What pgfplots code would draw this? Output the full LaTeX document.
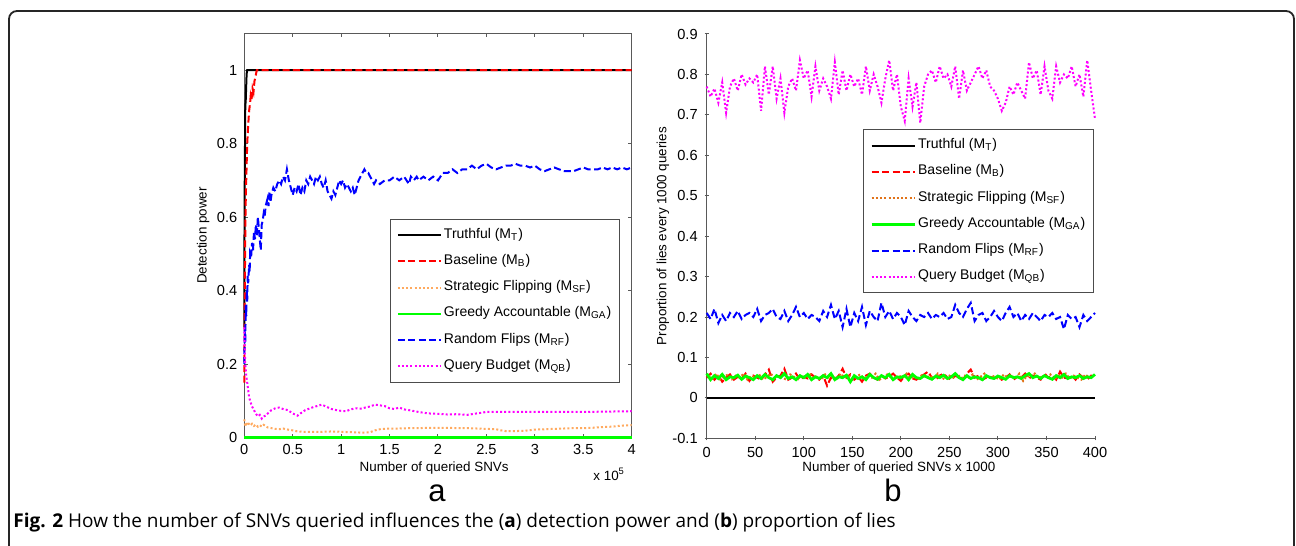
\documentclass[border=0pt]{standalone}
\usepackage{pgfplots}
\pgfplotsset{compat=1.18}
\usepackage{fontspec}
\setmainfont{Liberation Sans}
\newfontfamily\capfont{Open Sans}

\definecolor{mred}{RGB}{255,0,0}
\definecolor{mblue}{RGB}{0,0,255}
\definecolor{mgreen}{RGB}{0,255,0}
\definecolor{mmag}{RGB}{255,0,255}
\definecolor{morangeL}{RGB}{255,170,95}
\definecolor{morangeR}{RGB}{225,115,25}

\pgfplotsset{
  mstyle/.style={
    scale only axis, clip=false,
    tick align=inside, major tick length=2pt,
    axis line style={black!65, line width=0.5pt},
    every tick/.style={black!65, line width=0.5pt},
    tick label style={font=\fontsize{7.3}{8}\selectfont},
    label style={font=\fontsize{6.7}{8}\selectfont},
    legend cell align=left,
    legend image code/.code={\draw[##1] (0pt,0pt) -- (21.5pt,0pt);},
    legend style={font=\fontsize{7}{8}\selectfont, draw=black!70, line width=0.5pt,
      inner sep=3.2pt, row sep=3.7pt,
      nodes={inner sep=1pt, text height=5.2pt, text depth=2.2pt}},
  },
  lT/.style={black, line width=1pt},
  lB/.style={mred, line width=1pt, dash pattern=on 3.5pt off 1.7pt},
  lGA/.style={mgreen, line width=1.2pt},
  lRF/.style={mblue, line width=1pt, dash pattern=on 3.5pt off 1.7pt},
  lQB/.style={mmag, line width=1pt, dash pattern=on 1pt off 1.1pt},
}

\begin{document}
\begin{tikzpicture}
\path[use as bounding box] (0,0) rectangle (648pt,273pt);
\draw[line width=0.9pt, black!85, rounded corners=4pt] (4.5pt,-10pt) rectangle (647pt,267.5pt);

% (a) detection power
\begin{axis}[mstyle,
  at={(122.15pt,54.15pt)}, anchor=south west,
  width=193.7pt, height=202.2pt,
  xmin=0, xmax=4, ymin=0, ymax=1.1,
  xtick={0,0.5,1,1.5,2,2.5,3,3.5,4},
  xticklabels={0,0.5,1,1.5,2,2.5,3,3.5,4},
  ytick={0,0.2,0.4,0.6,0.8,1},
  yticklabels={0,0.2,0.4,0.6,0.8,1},
  xlabel={Number of queried SNVs},
  ylabel={Detection power},
  xlabel style={at={(axis description cs:0.49,-0.075)}, anchor=center},
  ylabel style={at={(axis description cs:-0.106,0.5)}, anchor=center},
  legend style={at={(0.970,0.541)}, anchor=north east},
]
\addplot[lT] coordinates {(0,0.30) (0.002,0.55) (0.005,0.72) (0.008,0.82) (0.01,0.90) (0.015,0.92) (0.02,0.96) (0.024,0.99) (0.03,1) (4,1)};
\addlegendentry{Truthful (M\textsubscript{T})}
\addplot[lB] coordinates {(0,0.15) (0.004,0.35) (0.008,0.5) (0.012,0.6) (0.016,0.66) (0.022,0.72) (0.03,0.8) (0.04,0.85) (0.05,0.89) (0.06,0.91) (0.066,0.93) (0.075,0.92) (0.085,0.95) (0.095,0.94) (0.105,0.97) (0.115,0.98) (0.125,0.995) (0.13,1) (4,1)};
\addlegendentry{Baseline (M\textsubscript{B})}
\addplot[morangeL, line width=1pt, dash pattern=on 1pt off 1.1pt] coordinates {
(0,0.05) (0.01,0.03) (0.02,0.042) (0.03,0.035) (0.04,0.04) (0.06,0.033) (0.08,0.038) (0.10,0.032) (0.12,0.036) (0.14,0.03) (0.16,0.034) (0.18,0.03) (0.20,0.035) (0.24,0.028) (0.28,0.026) (0.32,0.024) (0.36,0.023) (0.40,0.025) (0.45,0.022) (0.50,0.02) (0.55,0.017) (0.60,0.016) (0.70,0.016) (0.80,0.016) (0.90,0.017) (1.00,0.016) (1.10,0.015) (1.20,0.014) (1.25,0.014) (1.30,0.015) (1.35,0.02) (1.40,0.023) (1.50,0.025) (1.60,0.025) (1.70,0.026) (1.80,0.026) (1.90,0.027) (2.00,0.027) (2.10,0.027) (2.20,0.026) (2.30,0.026) (2.40,0.025) (2.50,0.024) (2.60,0.023) (2.65,0.02) (2.70,0.018) (2.80,0.018) (2.90,0.019) (3.00,0.022) (3.10,0.023) (3.20,0.024) (3.30,0.025) (3.40,0.026) (3.50,0.026) (3.60,0.027) (3.70,0.029) (3.80,0.03) (3.90,0.033) (4.00,0.034)};
\addlegendentry{Strategic Flipping (M\textsubscript{SF})}
\addplot[lGA] coordinates {(0,0) (4,0)};
\addlegendentry{Greedy Accountable (M\textsubscript{GA})}
\addplot[lRF] coordinates {
(0,0.20) (0.005,0.30) (0.01,0.26) (0.015,0.36) (0.02,0.33) (0.025,0.40) (0.03,0.37) (0.035,0.44) (0.04,0.42) (0.05,0.47) (0.055,0.45) (0.06,0.50) (0.07,0.49) (0.08,0.53) (0.09,0.51) (0.10,0.56) (0.11,0.54) (0.12,0.58) (0.13,0.55) (0.14,0.60) (0.15,0.57) (0.17,0.51) (0.18,0.58) (0.19,0.59) (0.20,0.61) (0.21,0.60) (0.22,0.63) (0.24,0.65) (0.25,0.63) (0.26,0.67) (0.27,0.64) (0.28,0.66) (0.30,0.68) (0.32,0.67) (0.34,0.69) (0.36,0.70) (0.38,0.69) (0.40,0.71) (0.42,0.70) (0.44,0.73) (0.46,0.70) (0.48,0.68) (0.50,0.66) (0.52,0.68) (0.54,0.67) (0.56,0.69) (0.58,0.66) (0.60,0.68) (0.62,0.67) (0.64,0.70) (0.66,0.69) (0.68,0.71) (0.70,0.70) (0.72,0.69) (0.74,0.71) (0.76,0.70) (0.78,0.71) (0.80,0.69) (0.82,0.68) (0.84,0.70) (0.86,0.67) (0.88,0.66) (0.90,0.65) (0.92,0.67) (0.94,0.66) (0.96,0.68) (0.98,0.70) (1.00,0.69) (1.02,0.70) (1.04,0.68) (1.06,0.69) (1.08,0.68) (1.10,0.67) (1.12,0.68) (1.14,0.66) (1.16,0.68) (1.18,0.70) (1.20,0.71) (1.22,0.72) (1.24,0.73) (1.26,0.72) (1.28,0.72) (1.30,0.71) (1.32,0.70) (1.34,0.69) (1.36,0.70) (1.40,0.69) (1.45,0.70) (1.50,0.70) (1.55,0.71) (1.60,0.70) (1.65,0.71) (1.70,0.69) (1.72,0.71) (1.75,0.70) (1.78,0.71) (1.80,0.70) (1.85,0.71) (1.90,0.70) (1.95,0.71) (2.00,0.70) (2.05,0.72) (2.10,0.72) (2.15,0.73) (2.20,0.72) (2.25,0.73) (2.30,0.73) (2.35,0.74) (2.40,0.73) (2.45,0.74) (2.50,0.745) (2.55,0.735) (2.60,0.73) (2.65,0.735) (2.70,0.74) (2.75,0.74) (2.80,0.745) (2.85,0.74) (2.90,0.74) (2.95,0.735) (3.00,0.74) (3.05,0.73) (3.10,0.725) (3.15,0.73) (3.20,0.735) (3.25,0.73) (3.30,0.725) (3.35,0.725) (3.40,0.725) (3.45,0.73) (3.50,0.735) (3.55,0.73) (3.60,0.73) (3.65,0.73) (3.70,0.735) (3.75,0.73) (3.80,0.735) (3.85,0.73) (3.90,0.735) (3.95,0.73) (4.00,0.735)};
\addlegendentry{Random Flips (M\textsubscript{RF})}
\addplot[lQB] coordinates {
(0,0.30) (0.005,0.24) (0.01,0.20) (0.02,0.17) (0.03,0.15) (0.04,0.13) (0.05,0.11) (0.06,0.10) (0.08,0.085) (0.10,0.075) (0.12,0.065) (0.14,0.058) (0.16,0.062) (0.18,0.052) (0.20,0.058) (0.22,0.06) (0.25,0.068) (0.28,0.075) (0.32,0.08) (0.36,0.082) (0.40,0.078) (0.45,0.075) (0.50,0.066) (0.55,0.06) (0.58,0.066) (0.63,0.075) (0.70,0.082) (0.75,0.086) (0.80,0.09) (0.85,0.084) (0.90,0.078) (0.95,0.075) (1.00,0.073) (1.05,0.072) (1.10,0.077) (1.15,0.08) (1.20,0.079) (1.25,0.082) (1.30,0.085) (1.35,0.09) (1.40,0.088) (1.45,0.086) (1.50,0.08) (1.55,0.078) (1.60,0.082) (1.65,0.077) (1.70,0.075) (1.80,0.07) (1.90,0.066) (2.00,0.065) (2.10,0.063) (2.20,0.064) (2.30,0.062) (2.40,0.066) (2.50,0.07) (2.60,0.07) (3.00,0.07) (3.50,0.07) (4.00,0.072)};
\addlegendentry{Query Budget (M\textsubscript{QB})}
\end{axis}

% (b) proportion of lies
\begin{axis}[mstyle,
  at={(353.35pt,53.85pt)}, anchor=south west,
  width=194.15pt, height=202.15pt,
  axis lines=left, axis line style={-},
  xmin=0, xmax=400, ymin=-0.1, ymax=0.9,
  xtick={0,50,...,400},
  xticklabels={0,50,100,150,200,250,300,350,400},
  ytick={-0.1,0,0.1,0.2,0.3,0.4,0.5,0.6,0.7,0.8,0.9},
  yticklabels={-0.1,0,0.1,0.2,0.3,0.4,0.5,0.6,0.7,0.8,0.9},
  xlabel={Number of queried SNVs x 1000},
  ylabel={Proportion of lies every 1000 queries},
  xlabel style={at={(axis description cs:0.495,-0.0735)}, anchor=center},
  ylabel style={at={(axis description cs:-0.113,0.5)}, anchor=center},
  legend style={at={(0.998,0.764)}, anchor=north east},
]
\addplot[lT, line width=1.2pt] coordinates {(0,0) (400,0)};
\addlegendentry{Truthful (M\textsubscript{T})}
\addplot[lB] coordinates {
(0,0.05) (4,0.06) (8,0.045) (12,0.055) (16,0.04) (20,0.05) (24,0.058) (28,0.045) (32,0.052) (36,0.048) (40,0.06) (44,0.042) (48,0.055) (52,0.05) (56,0.045) (60,0.058) (64,0.07) (68,0.04) (72,0.05) (76,0.055) (80,0.072) (84,0.045) (88,0.05) (92,0.06) (96,0.045) (100,0.052) (104,0.048) (108,0.058) (112,0.05) (116,0.045) (120,0.055) (124,0.03) (128,0.05) (132,0.045) (136,0.055) (140,0.072) (144,0.05) (148,0.058) (152,0.045) (156,0.052) (160,0.04) (164,0.055) (168,0.06) (172,0.05) (176,0.045) (180,0.055) (184,0.048) (188,0.052) (192,0.06) (196,0.05) (200,0.042) (204,0.055) (208,0.06) (212,0.048) (216,0.045) (220,0.052) (224,0.058) (228,0.065) (232,0.05) (236,0.045) (240,0.055) (244,0.06) (248,0.05) (252,0.045) (256,0.055) (260,0.05) (264,0.045) (268,0.06) (272,0.07) (276,0.05) (280,0.055) (284,0.045) (288,0.05) (292,0.052) (296,0.048) (300,0.055) (304,0.045) (308,0.05) (312,0.058) (316,0.045) (320,0.052) (324,0.05) (328,0.06) (332,0.048) (336,0.055) (340,0.05) (344,0.045) (348,0.06) (352,0.05) (356,0.055) (360,0.045) (364,0.065) (368,0.05) (372,0.048) (376,0.055) (380,0.045) (384,0.058) (388,0.05) (392,0.045) (396,0.055) (400,0.05)};
\addlegendentry{Baseline (M\textsubscript{B})}
\addplot[morangeR, line width=1pt, dash pattern=on 1pt off 1.1pt] coordinates {
(2,0.055) (6,0.048) (10,0.06) (14,0.045) (18,0.052) (22,0.058) (26,0.046) (30,0.055) (34,0.05) (38,0.06) (42,0.045) (46,0.055) (50,0.05) (54,0.058) (58,0.045) (62,0.052) (66,0.06) (70,0.048) (74,0.055) (78,0.05) (82,0.045) (86,0.058) (90,0.052) (94,0.046) (98,0.055) (102,0.05) (106,0.06) (110,0.048) (114,0.053) (118,0.045) (122,0.058) (126,0.05) (130,0.055) (134,0.045) (138,0.06) (142,0.05) (146,0.055) (150,0.045) (154,0.052) (158,0.058) (162,0.048) (166,0.055) (170,0.05) (174,0.06) (178,0.045) (182,0.052) (186,0.058) (190,0.05) (194,0.045) (198,0.055) (202,0.05) (206,0.06) (210,0.048) (214,0.053) (218,0.045) (222,0.058) (226,0.05) (230,0.055) (234,0.048) (238,0.06) (242,0.05) (246,0.045) (250,0.055) (254,0.05) (258,0.06) (262,0.048) (266,0.055) (270,0.05) (274,0.058) (278,0.045) (282,0.052) (286,0.06) (290,0.048) (294,0.055) (298,0.05) (302,0.045) (306,0.058) (310,0.05) (314,0.055) (318,0.048) (322,0.06) (326,0.042) (330,0.055) (334,0.05) (338,0.06) (342,0.048) (346,0.055) (350,0.05) (354,0.058) (358,0.045) (362,0.055) (366,0.05) (370,0.06) (374,0.048) (378,0.055) (382,0.05) (386,0.045) (390,0.058) (394,0.05) (398,0.055)};
\addlegendentry{Strategic Flipping (M\textsubscript{SF})}
\addplot[lGA, line width=1.4pt] coordinates {
(0,0.06) (4,0.045) (8,0.055) (12,0.048) (16,0.058) (20,0.045) (24,0.052) (28,0.05) (32,0.056) (36,0.046) (40,0.054) (44,0.05) (48,0.045) (52,0.055) (56,0.048) (60,0.058) (64,0.05) (68,0.045) (72,0.055) (76,0.05) (80,0.06) (84,0.048) (88,0.052) (92,0.045) (96,0.055) (100,0.05) (104,0.058) (108,0.045) (112,0.052) (116,0.048) (120,0.055) (124,0.05) (128,0.06) (132,0.045) (136,0.052) (140,0.05) (144,0.056) (148,0.04) (152,0.055) (156,0.048) (160,0.052) (164,0.045) (168,0.058) (172,0.05) (176,0.046) (180,0.055) (184,0.05) (188,0.058) (192,0.045) (196,0.052) (200,0.05) (204,0.055) (208,0.045) (212,0.058) (216,0.05) (220,0.048) (224,0.055) (228,0.05) (232,0.046) (236,0.054) (240,0.05) (244,0.056) (248,0.048) (252,0.052) (256,0.06) (260,0.05) (264,0.045) (268,0.055) (272,0.048) (276,0.052) (280,0.05) (284,0.045) (288,0.055) (292,0.05) (296,0.048) (300,0.054) (304,0.05) (308,0.046) (312,0.055) (316,0.05) (320,0.052) (324,0.048) (328,0.055) (332,0.06) (336,0.05) (340,0.054) (344,0.048) (348,0.055) (352,0.05) (356,0.046) (360,0.055) (364,0.05) (368,0.058) (372,0.048) (376,0.052) (380,0.05) (384,0.055) (388,0.048) (392,0.052) (396,0.05) (400,0.058)};
\addlegendentry{Greedy Accountable (M\textsubscript{GA})}
\addplot[lRF] coordinates {
(0,0.21) (4,0.195) (8,0.22) (12,0.185) (16,0.205) (20,0.19) (24,0.21) (28,0.2) (32,0.215) (36,0.195) (40,0.205) (44,0.21) (48,0.2) (52,0.22) (56,0.19) (60,0.205) (64,0.21) (68,0.22) (72,0.2) (76,0.195) (80,0.215) (84,0.19) (88,0.205) (92,0.225) (96,0.2) (100,0.21) (104,0.195) (108,0.205) (112,0.2) (116,0.19) (120,0.215) (124,0.2) (128,0.23) (132,0.195) (136,0.215) (140,0.175) (144,0.22) (148,0.175) (152,0.21) (156,0.19) (160,0.225) (164,0.18) (168,0.215) (172,0.2) (176,0.19) (180,0.235) (184,0.2) (188,0.215) (192,0.195) (196,0.21) (200,0.2) (204,0.18) (208,0.215) (212,0.2) (216,0.19) (220,0.205) (224,0.2) (228,0.21) (232,0.195) (236,0.205) (240,0.2) (244,0.21) (248,0.195) (252,0.2) (256,0.23) (260,0.21) (264,0.2) (268,0.22) (272,0.235) (276,0.19) (280,0.205) (284,0.21) (288,0.19) (292,0.2) (296,0.215) (300,0.2) (304,0.19) (308,0.21) (312,0.225) (316,0.2) (320,0.21) (324,0.19) (328,0.205) (332,0.195) (336,0.21) (340,0.2) (344,0.19) (348,0.205) (352,0.2) (356,0.21) (360,0.195) (364,0.2) (368,0.17) (372,0.205) (376,0.195) (380,0.2) (384,0.175) (388,0.205) (392,0.19) (396,0.2) (400,0.21)};
\addlegendentry{Random Flips (M\textsubscript{RF})}
\addplot[lQB] coordinates {
(0,0.77) (4,0.745) (8,0.765) (12,0.73) (16,0.78) (20,0.705) (24,0.77) (28,0.79) (32,0.76) (36,0.80) (40,0.775) (44,0.79) (48,0.78) (52,0.80) (56,0.71) (60,0.82) (64,0.75) (68,0.82) (72,0.74) (76,0.79) (80,0.705) (84,0.77) (88,0.79) (92,0.76) (96,0.835) (100,0.79) (104,0.81) (108,0.745) (112,0.82) (116,0.76) (120,0.79) (124,0.77) (128,0.74) (132,0.83) (136,0.75) (140,0.81) (144,0.76) (148,0.80) (152,0.77) (156,0.79) (160,0.75) (164,0.82) (168,0.76) (172,0.80) (176,0.77) (180,0.73) (184,0.79) (188,0.835) (192,0.76) (196,0.80) (200,0.72) (204,0.685) (208,0.79) (212,0.72) (216,0.78) (220,0.68) (224,0.77) (228,0.80) (232,0.81) (236,0.78) (240,0.82) (244,0.79) (248,0.80) (252,0.77) (256,0.82) (260,0.74) (264,0.81) (268,0.76) (272,0.78) (276,0.80) (280,0.82) (284,0.79) (288,0.81) (292,0.77) (296,0.76) (300,0.74) (304,0.71) (308,0.73) (312,0.77) (316,0.75) (320,0.78) (324,0.76) (328,0.74) (332,0.83) (336,0.79) (340,0.81) (344,0.75) (348,0.82) (352,0.76) (356,0.74) (360,0.82) (364,0.78) (368,0.80) (372,0.79) (376,0.82) (380,0.77) (384,0.80) (388,0.745) (392,0.835) (396,0.76) (400,0.69)};
\addlegendentry{Query Budget (M\textsubscript{QB})}
\end{axis}

\node[anchor=base east, font=\fontsize{6.7}{8}\selectfont] at (316pt,32.5pt) {x 10\textsuperscript{5}};
\node[anchor=base, font=\fontsize{15.5}{16}\selectfont] at (218.5pt,22pt) {a};
\node[anchor=base, font=\fontsize{15.5}{16}\selectfont] at (446.5pt,22pt) {b};
\node[anchor=base west, inner sep=0pt, font=\capfont\fontsize{9.5}{11}\selectfont] at (6.5pt,9pt)
  {\textbf{Fig. 2} How the number of SNVs queried influences the (\textbf{a}) detection power and (\textbf{b}) proportion of lies};
\end{tikzpicture}
\end{document}
